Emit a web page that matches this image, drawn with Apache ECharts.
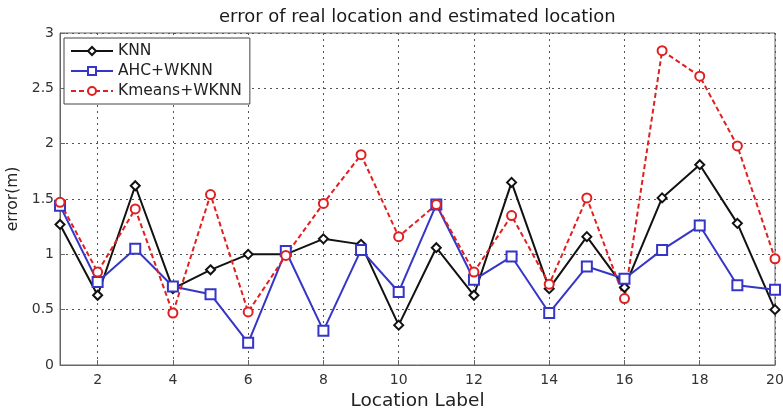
<!DOCTYPE html>
<html><head><meta charset="utf-8">
<script src="https://cdn.jsdelivr.net/npm/echarts@6/dist/echarts.min.js"></script>
<style>html,body{margin:0;padding:0;background:#fff}#c{width:783px;height:408px}</style>
</head><body><div id="c"></div>
<script>
const categories = ['1','2','3','4','5','6','7','8','9','10','11','12','13','14','15','16','17','18','19','20'];
const knn = [1.27,0.63,1.62,0.69,0.86,1.0,1.0,1.14,1.09,0.36,1.06,0.63,1.65,0.69,1.16,0.70,1.51,1.81,1.28,0.50];
const ahcWknn = [1.44,0.75,1.05,0.71,0.64,0.20,1.03,0.31,1.04,0.66,1.45,0.77,0.98,0.47,0.89,0.78,1.04,1.26,0.72,0.68];
const kmeansWknn = [1.47,0.84,1.41,0.47,1.54,0.48,0.99,1.46,1.90,1.16,1.45,0.84,1.35,0.73,1.51,0.60,2.84,2.61,1.98,0.96];
const yTicks = [0,0.5,1,1.5,2,2.5,3];

const FONT = 'DejaVu Sans';
const chart = echarts.init(document.getElementById('c'), null, {renderer:'canvas'});
const oddIdx = (i) => i % 2 === 1;
const gridLine = {show:true, lineStyle:{color:'#555', type:[2,4], width:1}};
chart.setOption({
  animation:false,
  backgroundColor:'#fff',
  title:{text:'error of real location and estimated location', left:214, top:3,
    textStyle:{fontFamily:FONT, fontSize:18, fontWeight:'normal', color:'#1a1a1a'}},
  legend:{orient:'vertical', left:64, top:38, padding:[5,8,5,6], itemGap:4, itemWidth:42, itemHeight:10,
    backgroundColor:'#fff', borderColor:'#444', borderWidth:1,
    textStyle:{fontFamily:FONT, fontSize:15.5, color:'#222'},
    data:['KNN','AHC+WKNN','Kmeans+WKNN']},
  grid:{left:60, right:8, top:33, bottom:43, outerBoundsMode:'none', containLabel:false,
    show:true, borderColor:'#666', borderWidth:1, backgroundColor:'transparent'},
  xAxis:{type:'category', data:categories, boundaryGap:false,
    name:'Location Label', nameLocation:'middle', nameGap:23,
    nameTextStyle:{fontFamily:FONT, fontSize:18.5, color:'#222'},
    axisLine:{show:true, lineStyle:{color:'#666'}},
    axisTick:{show:true, inside:true, interval:oddIdx, lineStyle:{color:'#666'}},
    axisLabel:{interval:oddIdx, fontFamily:FONT, fontSize:14, color:'#333', margin:8},
    splitLine:Object.assign({interval:oddIdx}, gridLine)},
  yAxis:{type:'value', min:0, max:3, interval:0.5,
    name:'error(m)', nameLocation:'middle', nameGap:37, nameRotate:90,
    nameTextStyle:{fontFamily:FONT, fontSize:15.5, color:'#222'},
    axisLine:{show:true, lineStyle:{color:'#666'}},
    axisTick:{show:true, inside:true, lineStyle:{color:'#666'}},
    axisLabel:{fontFamily:FONT, fontSize:14, color:'#333', margin:6},
    splitLine:gridLine},
  series:[
    {name:'KNN', type:'line', data:knn, symbol:'emptyDiamond', symbolSize:9,
     itemStyle:{color:'#111', borderWidth:1.5}, lineStyle:{color:'#111', width:2}},
    {name:'AHC+WKNN', type:'line', data:ahcWknn, symbol:'emptyRect', symbolSize:10,
     itemStyle:{color:'#3535c8', borderWidth:1.5}, lineStyle:{color:'#3535c8', width:2}},
    {name:'Kmeans+WKNN', type:'line', data:kmeansWknn, symbol:'emptyCircle', symbolSize:9,
     itemStyle:{color:'#e02020', borderWidth:1.5}, lineStyle:{color:'#e02020', width:2, type:[5,3]}}
  ]
});
</script></body></html>
